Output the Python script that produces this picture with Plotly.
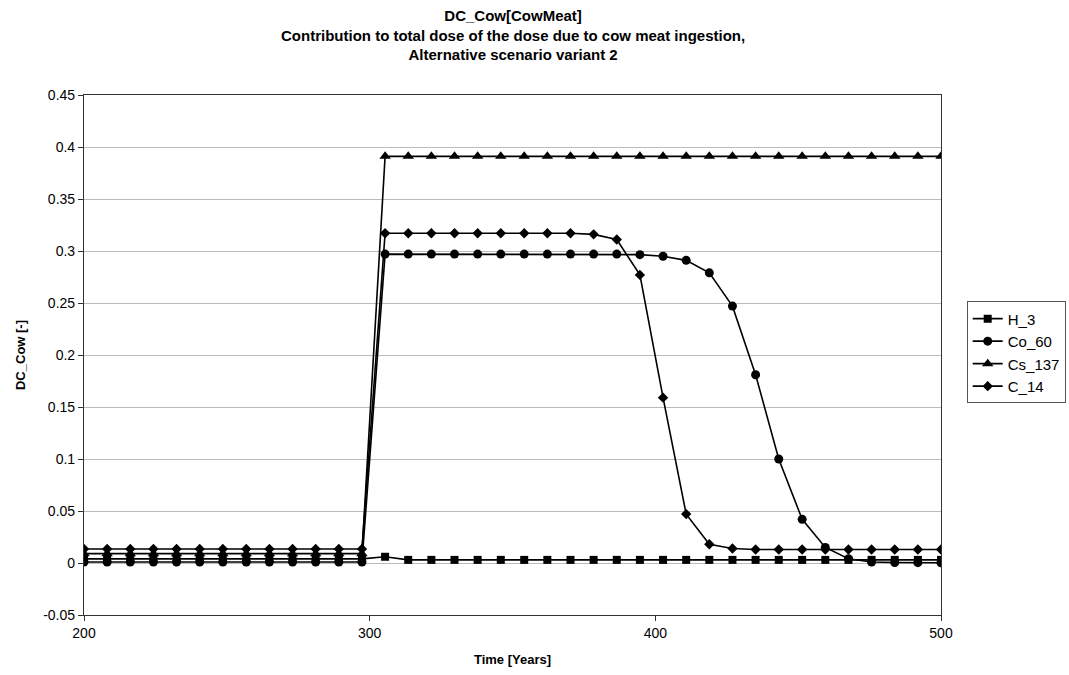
import plotly.graph_objects as go

times = [200.0, 208.1, 216.2, 224.3, 232.4, 240.5, 248.6, 256.8, 264.9, 273.0,
         281.1, 289.2, 297.3, 305.4, 313.5, 321.6, 329.7, 337.8, 345.9, 354.1,
         362.2, 370.3, 378.4, 386.5, 394.6, 402.7, 410.8, 418.9, 427.0, 435.1,
         443.2, 451.4, 459.5, 467.6, 475.7, 483.8, 491.9, 500.0]

h3 = [0.004] * 13 + [0.006] + [0.003] * 24
co60 = [0.001] * 13 + [0.297] * 11 + [0.2965, 0.295, 0.291, 0.279, 0.247, 0.181,
                                      0.100, 0.042, 0.015, 0.004, 0.001, 0.0005,
                                      0.0003, 0.0002]
cs137 = [0.009] * 13 + [0.391] * 25
c14 = [0.0135] * 13 + [0.317] * 9 + [0.316, 0.311, 0.277, 0.159, 0.047, 0.018,
                                     0.014] + [0.013] * 9

y_ticks = [-0.05, 0, 0.05, 0.1, 0.15, 0.2, 0.25, 0.3, 0.35, 0.4, 0.45]
y_labels = ["-0.05", "0", "0.05", "0.1", "0.15", "0.2", "0.25", "0.3", "0.35", "0.4", "0.45"]
x_ticks = [200, 300, 400, 500]

series = [
    ("H_3", h3, "square", 8),
    ("Co_60", co60, "circle", 9),
    ("Cs_137", cs137, "triangle-up", 10),
    ("C_14", c14, "diamond", 8),
]

font_family = "Liberation Sans, Arial, sans-serif"

fig = go.Figure()
for name, vals, sym, sz in series:
    fig.add_trace(go.Scatter(
        x=times, y=vals, name=name, mode="lines+markers",
        line=dict(color="black", width=1.6),
        marker=dict(symbol=sym, size=sz, color="black"),
    ))

title_lines = [
    "DC_Cow[CowMeat]",
    "Contribution to total dose of the dose due to cow meat ingestion,",
    "Alternative scenario variant 2",
]

fig.update_layout(
    width=1069, height=675,
    paper_bgcolor="white", plot_bgcolor="white",
    margin=dict(l=84, r=128, t=95, b=60, autoexpand=False),
    font=dict(family=font_family, size=14, color="black"),
    showlegend=True,
    legend=dict(
        x=1.03, xanchor="left", y=0.505, yanchor="middle",
        bordercolor="#555555", borderwidth=1,
        font=dict(size=15), tracegroupgap=0,
        itemwidth=30,
    ),
)

fig.add_annotation(
    text="<b>" + "<br>".join(title_lines) + "</b>",
    xref="paper", yref="paper", x=0.5, y=1.0, yanchor="bottom", yshift=30,
    showarrow=False, align="center", font=dict(size=15, family=font_family),
)

fig.update_xaxes(
    range=[200, 500], tickvals=x_ticks,
    showgrid=False, zeroline=False,
    showline=True, linecolor="#333333", linewidth=1.2, mirror=True,
    ticks="outside", ticklen=5, tickcolor="#333333",
    title=dict(text="<b>Time [Years]</b>", font=dict(size=13), standoff=14),
    tickfont=dict(size=14),
)
fig.update_yaxes(
    range=[-0.05, 0.45], tickvals=y_ticks, ticktext=y_labels,
    showgrid=True, gridcolor="#bbbbbb", gridwidth=1.2, zeroline=False,
    showline=True, linecolor="#333333", linewidth=1.2, mirror=True,
    ticks="outside", ticklen=5, tickcolor="#333333",
    title=dict(text="<b>DC_Cow [-]</b>", font=dict(size=13), standoff=14),
    tickfont=dict(size=14),
)

fig.write_html("out.html")
